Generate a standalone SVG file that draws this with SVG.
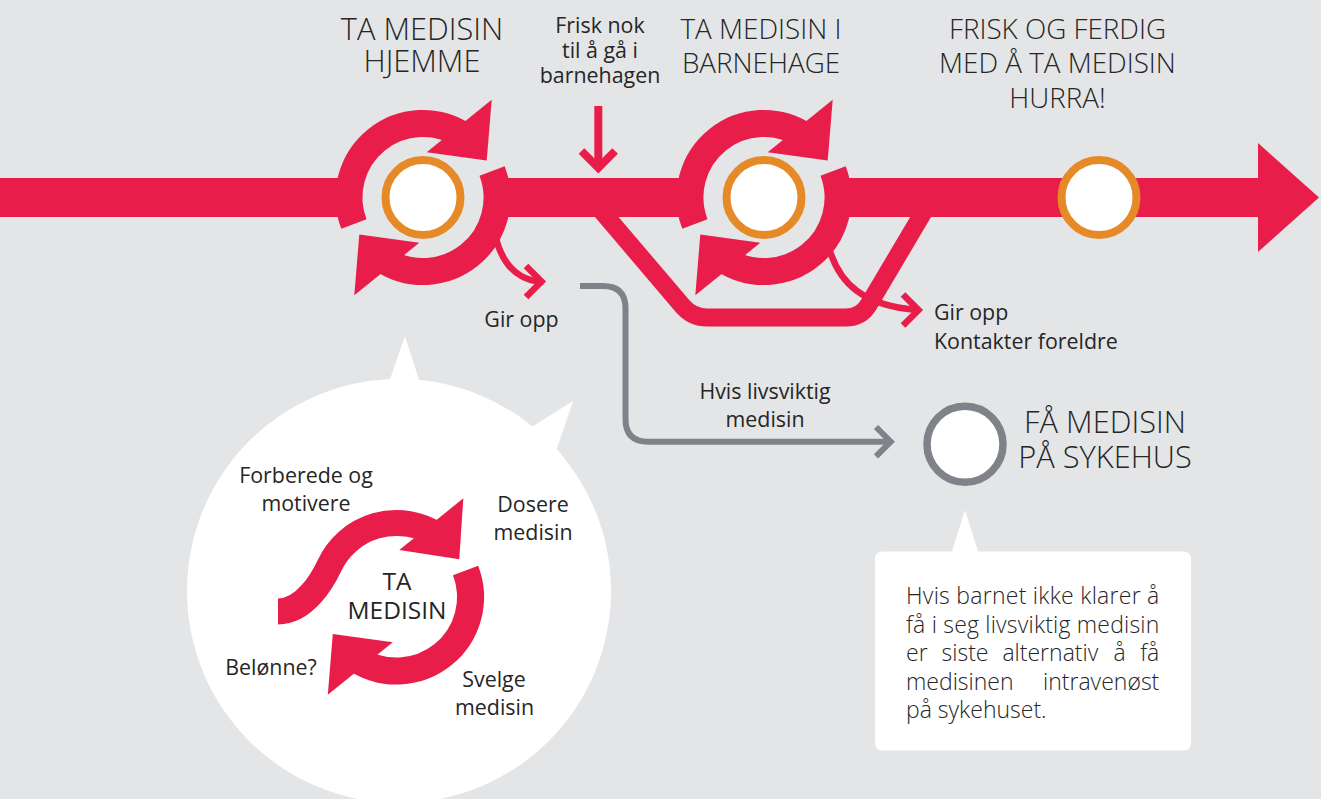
<svg xmlns="http://www.w3.org/2000/svg" xmlns:xlink="http://www.w3.org/1999/xlink" width="1321" height="799" viewBox="0 0 1321 799">
  <style>
    .red { fill: #E91D49; }
    .redline { fill: none; stroke: #E91D49; }
    .grayline { fill: none; stroke: #7F8389; stroke-width: 6; }
    .stop { fill: #FFFFFF; stroke: #E68A28; stroke-width: 8; }
    .head { font-family: "Open Sans", "Liberation Sans", sans-serif; font-weight: 300; font-size: 27.8px; fill: #262626; text-anchor: middle; }
    .big { font-size: 30.8px; }
    .lbl { font-family: "Open Sans", "Liberation Sans", sans-serif; font-weight: 400; font-size: 21.4px; fill: #262626; }
    .mid { text-anchor: middle; }
    .note { font-family: "Open Sans", "Liberation Sans", sans-serif; font-weight: 300; font-size: 23px; fill: #262626; }
  </style>
  <defs>
    <!-- one half of a circular "repeat" arrow, centred on 0,0 -->
    <g id="half-cycle">
      <path d="M-69.1,26.5 A74,74 0 0 1 40.3,-62.1" fill="none" stroke="#E91D49" stroke-width="27"/>
      <polygon class="red" points="68.7,-97.7 63.7,-37 3.7,-45.3"/>
    </g>
  </defs>

  <!-- background -->
  <rect x="0" y="0" width="1321" height="799" fill="#E4E5E7"/>

  <!-- speech bubble with the medicine-taking steps -->
  <g id="bubble">
    <circle cx="399" cy="591" r="212" fill="#FFFFFF"/>
    <polygon points="388,385 405,336 421,386" fill="#FFFFFF"/>
    <polygon points="527,430 573.3,400.7 556,451" fill="#FFFFFF"/>
  </g>

  <!-- note box -->
  <g id="note-box">
    <rect x="875" y="551.5" width="316" height="199" rx="7" fill="#FFFFFF"/>
    <polygon points="951.5,553 965,510 978.5,553" fill="#FFFFFF"/>
  </g>

  <!-- connectors -->
  <g id="connectors">
    <!-- main timeline -->
    <rect class="red" x="0" y="178" width="352" height="39"/>
    <rect class="red" x="503" y="178" width="190" height="39"/>
    <rect class="red" x="842" y="178" width="420" height="39"/>
    <polygon class="red" points="1258,143 1319,197.5 1258,252"/>
    <!-- bypass loop under the kindergarten stage -->
    <path class="redline" stroke-width="18" stroke-linejoin="round" d="M589.7,197 L682.6,306.1 Q692.3,317.5 707.3,317.5 L846,317.5 Q861,317.5 868.7,304.6 L932.5,197"/>
    <!-- "frisk nok" arrow -->
    <path class="redline" stroke-width="8" d="M598.3,106 V167"/>
    <path class="redline" stroke-width="8" stroke-linejoin="miter" d="M581.5,151 L598.3,167.8 L615.1,151"/>
    <!-- give-up arrows -->
    <path class="redline" stroke-width="6.5" d="M495,234 C501,262 515,279 540,282"/>
    <path class="redline" stroke-width="6.5" stroke-linejoin="miter" d="M526,266 L541.5,281.5 L526,297"/>
    <path class="redline" stroke-width="6.5" d="M828,244 C838,285 865,306 918,310"/>
    <path class="redline" stroke-width="6.5" stroke-linejoin="miter" d="M903,294.5 L918.5,310 L903,325.5"/>
    <!-- hospital route -->
    <path class="grayline" d="M580,286 H603 Q625.5,286 625.5,308.5 V419 Q625.5,441.7 648,441.7 H890"/>
    <path class="grayline" stroke-linejoin="miter" d="M876,427 L890.7,441.7 L876,456.4"/>
  </g>

  <!-- stage: medicine at home -->
  <g id="stage-home">
    <use xlink:href="#half-cycle" transform="translate(423,197.5)"/>
    <use xlink:href="#half-cycle" transform="translate(423,197.5) rotate(180)"/>
    <circle class="stop" cx="423" cy="197.5" r="37.5"/>
    <text class="head big" x="422" y="39.5">TA MEDISIN</text>
    <text class="head big" x="422" y="72">HJEMME</text>
  </g>

  <!-- stage: medicine in kindergarten -->
  <g id="stage-kindergarten">
    <use xlink:href="#half-cycle" transform="translate(764,197.5)"/>
    <use xlink:href="#half-cycle" transform="translate(764,197.5) rotate(180)"/>
    <circle class="stop" cx="764" cy="197.5" r="37.5"/>
    <text class="head" x="761" y="38.5">TA MEDISIN I</text>
    <text class="head" x="761" y="73">BARNEHAGE</text>
  </g>

  <!-- stage: done -->
  <g id="stage-done">
    <circle class="stop" cx="1099" cy="197.5" r="37.5"/>
    <text class="head" x="1057.5" y="38.5">FRISK OG FERDIG</text>
    <text class="head" x="1057.5" y="73">MED Å TA MEDISIN</text>
    <text class="head" x="1057.5" y="107.5">HURRA!</text>
  </g>

  <!-- stage: hospital -->
  <g id="stage-hospital">
    <circle cx="965" cy="444.3" r="38" fill="#FFFFFF" stroke="#7F8389" stroke-width="7.5"/>
    <text class="head big" x="1105" y="433">FÅ MEDISIN</text>
    <text class="head big" x="1105" y="467.5">PÅ SYKEHUS</text>
  </g>

  <!-- labels on the connectors -->
  <g id="labels">
    <text class="lbl mid" x="600" y="32.5">Frisk nok</text>
    <text class="lbl mid" x="600" y="57.5">til å gå i</text>
    <text class="lbl mid" x="600" y="82.5">barnehagen</text>
    <text class="lbl mid" x="521.5" y="327">Gir opp</text>
    <text class="lbl" x="934" y="319.5">Gir opp</text>
    <text class="lbl" x="934" y="348.5">Kontakter foreldre</text>
    <text class="lbl mid" x="765" y="398.5">Hvis livsviktig</text>
    <text class="lbl mid" x="765" y="427">medisin</text>
  </g>

  <!-- medicine-taking cycle inside the bubble -->
  <g id="cycle-steps">
    <path d="M278,611.5 C305,611.5 323,579.3 329.4,565.7 A74,74 0 0 1 436.8,534.9" fill="none" stroke="#E91D49" stroke-width="26"/>
    <polygon class="red" points="463.3,498.3 459.3,559.3 399.3,550"/>
    <use xlink:href="#half-cycle" transform="translate(396.5,597) rotate(180)"/>
    <text class="lbl mid" x="397" y="590" style="font-size:24.5px">TA</text>
    <text class="lbl mid" x="397" y="618.5" style="font-size:24.5px">MEDISIN</text>
    <text class="lbl mid" x="306" y="482.5">Forberede og</text>
    <text class="lbl mid" x="306" y="510.5">motivere</text>
    <text class="lbl mid" x="533" y="511.5">Dosere</text>
    <text class="lbl mid" x="533" y="540">medisin</text>
    <text class="lbl mid" x="271" y="675">Belønne?</text>
    <text class="lbl mid" x="494" y="687">Svelge</text>
    <text class="lbl mid" x="494.5" y="715">medisin</text>
  </g>

  <!-- note text, justified line by line -->
  <g id="note-text">
    <text class="note" x="906" y="604" textLength="253.3" lengthAdjust="spacing">Hvis barnet ikke klarer å</text>
    <text class="note" x="906" y="632.5" textLength="253.3" lengthAdjust="spacing">få i seg livsviktig medisin</text>
    <text class="note" y="661"><tspan x="906">er</tspan><tspan x="941.5">siste</tspan><tspan x="1002.4">alternativ</tspan><tspan x="1113.5">å</tspan></text>
    <text class="note" x="1159.3" y="661" text-anchor="end">få</text>
    <text class="note" x="906" y="689.5">medisinen</text>
    <text class="note" x="1159.3" y="689.5" text-anchor="end">intravenøst</text>
    <text class="note" x="906" y="718">på sykehuset.</text>
  </g>
</svg>
